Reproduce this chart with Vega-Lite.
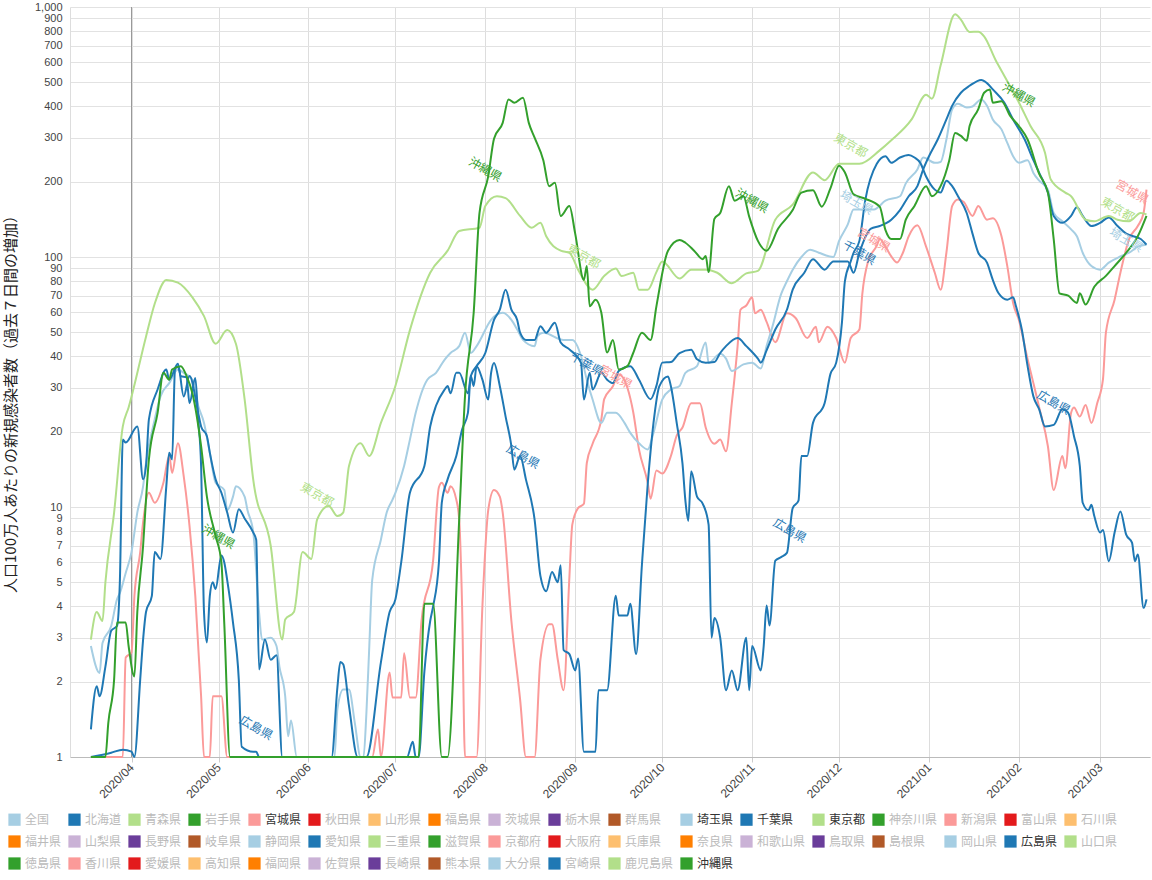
{
  "$schema": "https://vega.github.io/schema/vega-lite/v6.json",
  "autosize": {"type": "none"},
  "padding": {"left": 70, "top": 7, "right": 2, "bottom": 123},
  "width": 1080,
  "height": 750,
  "config": {"font": "Noto Sans CJK JP", "view": {"stroke": null}},
  "datasets": {
    "s": [
      {"p":"宮城県","d":"2020-03-18","v":1},{"p":"宮城県","d":"2020-03-29","v":1},{"p":"宮城県","d":"2020-03-30","v":2.5},{"p":"宮城県","d":"2020-04-01","v":2.62},{"p":"宮城県","d":"2020-04-02","v":4.4},{"p":"宮城県","d":"2020-04-04","v":6.6},{"p":"宮城県","d":"2020-04-05","v":8.7},{"p":"宮城県","d":"2020-04-07","v":11.4},{"p":"宮城県","d":"2020-04-09","v":10.4},{"p":"宮城県","d":"2020-04-12","v":12.5},{"p":"宮城県","d":"2020-04-14","v":16},{"p":"宮城県","d":"2020-04-15","v":13.7},{"p":"宮城県","d":"2020-04-17","v":18},{"p":"宮城県","d":"2020-04-19","v":13.3},{"p":"宮城県","d":"2020-04-21","v":8.4},{"p":"宮城県","d":"2020-04-23","v":4.4},{"p":"宮城県","d":"2020-04-25","v":1.75},{"p":"宮城県","d":"2020-04-26","v":1},{"p":"宮城県","d":"2020-04-28","v":1},{"p":"宮城県","d":"2020-04-29","v":1.75},{"p":"宮城県","d":"2020-05-02","v":1.75},{"p":"宮城県","d":"2020-05-04","v":1},{"p":"宮城県","d":"2020-06-23","v":1},{"p":"宮城県","d":"2020-06-25","v":1.29},{"p":"宮城県","d":"2020-06-26","v":1},{"p":"宮城県","d":"2020-06-29","v":2.18},{"p":"宮城県","d":"2020-06-30","v":1.73},{"p":"宮城県","d":"2020-07-03","v":1.73},{"p":"宮城県","d":"2020-07-04","v":2.6},{"p":"宮城県","d":"2020-07-06","v":1.73},{"p":"宮城県","d":"2020-07-08","v":1.73},{"p":"宮城県","d":"2020-07-10","v":3.5},{"p":"宮城県","d":"2020-07-14","v":6.1},{"p":"宮城県","d":"2020-07-16","v":12},{"p":"宮城県","d":"2020-07-17","v":12.5},{"p":"宮城県","d":"2020-07-19","v":11.4},{"p":"宮城県","d":"2020-07-20","v":12.1},{"p":"宮城県","d":"2020-07-22","v":10.7},{"p":"宮城県","d":"2020-07-23","v":8.9},{"p":"宮城県","d":"2020-07-24","v":4},{"p":"宮城県","d":"2020-07-25","v":1},{"p":"宮城県","d":"2020-07-29","v":1},{"p":"宮城県","d":"2020-07-31","v":4},{"p":"宮城県","d":"2020-08-02","v":9.7},{"p":"宮城県","d":"2020-08-04","v":11.7},{"p":"宮城県","d":"2020-08-06","v":11},{"p":"宮城県","d":"2020-08-07","v":9.5},{"p":"宮城県","d":"2020-08-10","v":3.5},{"p":"宮城県","d":"2020-08-13","v":1.7},{"p":"宮城県","d":"2020-08-15","v":1},{"p":"宮城県","d":"2020-08-18","v":1},{"p":"宮城県","d":"2020-08-20","v":2.45},{"p":"宮城県","d":"2020-08-23","v":3.4},{"p":"宮城県","d":"2020-08-24","v":3.4},{"p":"宮城県","d":"2020-08-26","v":2.45},{"p":"宮城県","d":"2020-08-28","v":1.85},{"p":"宮城県","d":"2020-08-30","v":5.25},{"p":"宮城県","d":"2020-08-31","v":8.5},{"p":"宮城県","d":"2020-09-02","v":9.9},{"p":"宮城県","d":"2020-09-04","v":10.3},{"p":"宮城県","d":"2020-09-05","v":15},{"p":"宮城県","d":"2020-09-07","v":17.9},{"p":"宮城県","d":"2020-09-10","v":22.4},{"p":"宮城県","d":"2020-09-11","v":27},{"p":"宮城県","d":"2020-09-14","v":30.4},{"p":"宮城県","d":"2020-09-16","v":34},{"p":"宮城県","d":"2020-09-19","v":30},{"p":"宮城県","d":"2020-09-21","v":24},{"p":"宮城県","d":"2020-09-23","v":17},{"p":"宮城県","d":"2020-09-26","v":12.5},{"p":"宮城県","d":"2020-09-27","v":10.8},{"p":"宮城県","d":"2020-09-29","v":14},{"p":"宮城県","d":"2020-10-01","v":13.6},{"p":"宮城県","d":"2020-10-04","v":16},{"p":"宮城県","d":"2020-10-06","v":19.3},{"p":"宮城県","d":"2020-10-08","v":20.8},{"p":"宮城県","d":"2020-10-11","v":26},{"p":"宮城県","d":"2020-10-14","v":26},{"p":"宮城県","d":"2020-10-16","v":20.8},{"p":"宮城県","d":"2020-10-19","v":17.9},{"p":"宮城県","d":"2020-10-21","v":18.6},{"p":"宮城県","d":"2020-10-23","v":16.7},{"p":"宮城県","d":"2020-10-25","v":26},{"p":"宮城県","d":"2020-10-27","v":44},{"p":"宮城県","d":"2020-10-28","v":61.5},{"p":"宮城県","d":"2020-10-30","v":64},{"p":"宮城県","d":"2020-11-01","v":69},{"p":"宮城県","d":"2020-11-02","v":59.5},{"p":"宮城県","d":"2020-11-04","v":61.5},{"p":"宮城県","d":"2020-11-06","v":55},{"p":"宮城県","d":"2020-11-09","v":45.6},{"p":"宮城県","d":"2020-11-13","v":59.5},{"p":"宮城県","d":"2020-11-16","v":57},{"p":"宮城県","d":"2020-11-20","v":47.4},{"p":"宮城県","d":"2020-11-23","v":52.6},{"p":"宮城県","d":"2020-11-24","v":45.6},{"p":"宮城県","d":"2020-11-27","v":52.6},{"p":"宮城県","d":"2020-11-30","v":47.4},{"p":"宮城県","d":"2020-12-03","v":37.8},{"p":"宮城県","d":"2020-12-05","v":47.4},{"p":"宮城県","d":"2020-12-08","v":51.3},{"p":"宮城県","d":"2020-12-09","v":71},{"p":"宮城県","d":"2020-12-11","v":96},{"p":"宮城県","d":"2020-12-14","v":111},{"p":"宮城県","d":"2020-12-15","v":118},{"p":"宮城県","d":"2020-12-17","v":110},{"p":"宮城県","d":"2020-12-19","v":100.5},{"p":"宮城県","d":"2020-12-21","v":95},{"p":"宮城県","d":"2020-12-23","v":104},{"p":"宮城県","d":"2020-12-25","v":121},{"p":"宮城県","d":"2020-12-28","v":134},{"p":"宮城県","d":"2020-12-31","v":110},{"p":"宮城県","d":"2021-01-03","v":86.5},{"p":"宮城県","d":"2021-01-05","v":74},{"p":"宮城県","d":"2021-01-07","v":104},{"p":"宮城県","d":"2021-01-09","v":160},{"p":"宮城県","d":"2021-01-11","v":170},{"p":"宮城県","d":"2021-01-13","v":166},{"p":"宮城県","d":"2021-01-16","v":146},{"p":"宮城県","d":"2021-01-18","v":160},{"p":"宮城県","d":"2021-01-21","v":141},{"p":"宮城県","d":"2021-01-23","v":143},{"p":"宮城県","d":"2021-01-26","v":121},{"p":"宮城県","d":"2021-01-28","v":92},{"p":"宮城県","d":"2021-01-30","v":65.5},{"p":"宮城県","d":"2021-02-01","v":56},{"p":"宮城県","d":"2021-02-04","v":39},{"p":"宮城県","d":"2021-02-06","v":31.3},{"p":"宮城県","d":"2021-02-08","v":25},{"p":"宮城県","d":"2021-02-11","v":17.5},{"p":"宮城県","d":"2021-02-13","v":11.7},{"p":"宮城県","d":"2021-02-16","v":16},{"p":"宮城県","d":"2021-02-17","v":14.3},{"p":"宮城県","d":"2021-02-19","v":23.8},{"p":"宮城県","d":"2021-02-20","v":25},{"p":"宮城県","d":"2021-02-22","v":23},{"p":"宮城県","d":"2021-02-24","v":25.6},{"p":"宮城県","d":"2021-02-26","v":21.7},{"p":"宮城県","d":"2021-02-28","v":26},{"p":"宮城県","d":"2021-03-02","v":32.5},{"p":"宮城県","d":"2021-03-03","v":49.8},{"p":"宮城県","d":"2021-03-06","v":67.5},{"p":"宮城県","d":"2021-03-08","v":86.5},{"p":"宮城県","d":"2021-03-11","v":118},{"p":"宮城県","d":"2021-03-14","v":133},{"p":"宮城県","d":"2021-03-16","v":150},{"p":"宮城県","d":"2021-03-17","v":186},

      {"p":"埼玉県","d":"2020-03-18","v":2.78},{"p":"埼玉県","d":"2020-03-21","v":2.17},{"p":"埼玉県","d":"2020-03-22","v":2.86},{"p":"埼玉県","d":"2020-03-25","v":3.34},{"p":"埼玉県","d":"2020-03-27","v":4.27},{"p":"埼玉県","d":"2020-03-28","v":4.53},{"p":"埼玉県","d":"2020-03-30","v":5.45},{"p":"埼玉県","d":"2020-04-01","v":6.6},{"p":"埼玉県","d":"2020-04-03","v":9.5},{"p":"埼玉県","d":"2020-04-05","v":12.1},{"p":"埼玉県","d":"2020-04-06","v":15},{"p":"埼玉県","d":"2020-04-09","v":22.4},{"p":"埼玉県","d":"2020-04-11","v":27.7},{"p":"埼玉県","d":"2020-04-14","v":31.3},{"p":"埼玉県","d":"2020-04-17","v":35.5},{"p":"埼玉県","d":"2020-04-19","v":34.4},{"p":"埼玉県","d":"2020-04-22","v":32.3},{"p":"埼玉県","d":"2020-04-24","v":25.4},{"p":"埼玉県","d":"2020-04-26","v":21.7},{"p":"埼玉県","d":"2020-04-28","v":16.5},{"p":"埼玉県","d":"2020-04-30","v":12.5},{"p":"埼玉県","d":"2020-05-03","v":11.7},{"p":"埼玉県","d":"2020-05-04","v":9.7},{"p":"埼玉県","d":"2020-05-06","v":11},{"p":"埼玉県","d":"2020-05-07","v":12.1},{"p":"埼玉県","d":"2020-05-10","v":11},{"p":"埼玉県","d":"2020-05-11","v":9.7},{"p":"埼玉県","d":"2020-05-13","v":7.9},{"p":"埼玉県","d":"2020-05-15","v":3.77},{"p":"埼玉県","d":"2020-05-16","v":2.95},{"p":"埼玉県","d":"2020-05-19","v":3.0},{"p":"埼玉県","d":"2020-05-21","v":2.78},{"p":"埼玉県","d":"2020-05-22","v":2.3},{"p":"埼玉県","d":"2020-05-24","v":1.75},{"p":"埼玉県","d":"2020-05-25","v":1.21},{"p":"埼玉県","d":"2020-05-26","v":1.4},{"p":"埼玉県","d":"2020-05-28","v":1},{"p":"埼玉県","d":"2020-06-10","v":1},{"p":"埼玉県","d":"2020-06-11","v":1.55},{"p":"埼玉県","d":"2020-06-13","v":1.86},{"p":"埼玉県","d":"2020-06-15","v":1.86},{"p":"埼玉県","d":"2020-06-17","v":1.37},{"p":"埼玉県","d":"2020-06-19","v":1},{"p":"埼玉県","d":"2020-06-20","v":1},{"p":"埼玉県","d":"2020-06-21","v":1.5},{"p":"埼玉県","d":"2020-06-22","v":2.78},{"p":"埼玉県","d":"2020-06-23","v":5.1},{"p":"埼玉県","d":"2020-06-26","v":7.4},{"p":"埼玉県","d":"2020-06-28","v":9.5},{"p":"埼玉県","d":"2020-06-30","v":10.7},{"p":"埼玉県","d":"2020-07-01","v":11.4},{"p":"埼玉県","d":"2020-07-04","v":14.6},{"p":"埼玉県","d":"2020-07-06","v":18.6},{"p":"埼玉県","d":"2020-07-08","v":23.8},{"p":"埼玉県","d":"2020-07-12","v":32.3},{"p":"埼玉県","d":"2020-07-15","v":34.4},{"p":"埼玉県","d":"2020-07-18","v":38.9},{"p":"埼玉県","d":"2020-07-20","v":41.3},{"p":"埼玉県","d":"2020-07-23","v":44},{"p":"埼玉県","d":"2020-07-25","v":49.8},{"p":"埼玉県","d":"2020-07-27","v":41.3},{"p":"埼玉県","d":"2020-07-29","v":44},{"p":"埼玉県","d":"2020-08-03","v":56},{"p":"埼玉県","d":"2020-08-05","v":58.9},{"p":"埼玉県","d":"2020-08-07","v":59.8},{"p":"埼玉県","d":"2020-08-10","v":56},{"p":"埼玉県","d":"2020-08-12","v":51.3},{"p":"埼玉県","d":"2020-08-14","v":46.6},{"p":"埼玉県","d":"2020-08-18","v":44},{"p":"埼玉県","d":"2020-08-19","v":48.3},{"p":"埼玉県","d":"2020-08-21","v":49.8},{"p":"埼玉県","d":"2020-08-28","v":46.6},{"p":"埼玉県","d":"2020-08-31","v":46.6},{"p":"埼玉県","d":"2020-09-03","v":40.2},{"p":"埼玉県","d":"2020-09-05","v":32.3},{"p":"埼玉県","d":"2020-09-07","v":26.9},{"p":"埼玉県","d":"2020-09-10","v":21.7},{"p":"埼玉県","d":"2020-09-12","v":23.8},{"p":"埼玉県","d":"2020-09-15","v":23.8},{"p":"埼玉県","d":"2020-09-18","v":21.7},{"p":"埼玉県","d":"2020-09-20","v":19.8},{"p":"埼玉県","d":"2020-09-23","v":18},{"p":"埼玉県","d":"2020-09-26","v":17},{"p":"埼玉県","d":"2020-09-28","v":19.8},{"p":"埼玉県","d":"2020-10-01","v":26.9},{"p":"埼玉県","d":"2020-10-04","v":29.5},{"p":"埼玉県","d":"2020-10-07","v":30.5},{"p":"埼玉県","d":"2020-10-09","v":34.4},{"p":"埼玉県","d":"2020-10-13","v":36.6},{"p":"埼玉県","d":"2020-10-16","v":45.5},{"p":"埼玉県","d":"2020-10-17","v":37.7},{"p":"埼玉県","d":"2020-10-21","v":41},{"p":"埼玉県","d":"2020-10-23","v":39.2},{"p":"埼玉県","d":"2020-10-25","v":35},{"p":"埼玉県","d":"2020-10-29","v":37.2},{"p":"埼玉県","d":"2020-11-01","v":37.8},{"p":"埼玉県","d":"2020-11-04","v":35.8},{"p":"埼玉県","d":"2020-11-06","v":44},{"p":"埼玉県","d":"2020-11-08","v":52.6},{"p":"埼玉県","d":"2020-11-11","v":71},{"p":"埼玉県","d":"2020-11-13","v":80},{"p":"埼玉県","d":"2020-11-15","v":89},{"p":"埼玉県","d":"2020-11-18","v":100},{"p":"埼玉県","d":"2020-11-21","v":107},{"p":"埼玉県","d":"2020-11-24","v":104},{"p":"埼玉県","d":"2020-11-29","v":100},{"p":"埼玉県","d":"2020-12-01","v":116},{"p":"埼玉県","d":"2020-12-04","v":135},{"p":"埼玉県","d":"2020-12-06","v":155},{"p":"埼玉県","d":"2020-12-13","v":155},{"p":"埼玉県","d":"2020-12-17","v":168},{"p":"埼玉県","d":"2020-12-22","v":175},{"p":"埼玉県","d":"2020-12-24","v":197},{"p":"埼玉県","d":"2020-12-28","v":224},{"p":"埼玉県","d":"2020-12-30","v":250},{"p":"埼玉県","d":"2021-01-03","v":238},{"p":"埼玉県","d":"2021-01-05","v":240},{"p":"埼玉県","d":"2021-01-07","v":295},{"p":"埼玉県","d":"2021-01-09","v":390},{"p":"埼玉県","d":"2021-01-11","v":410},{"p":"埼玉県","d":"2021-01-14","v":396},{"p":"埼玉県","d":"2021-01-16","v":400},{"p":"埼玉県","d":"2021-01-19","v":427},{"p":"埼玉県","d":"2021-01-21","v":403},{"p":"埼玉県","d":"2021-01-23","v":355},{"p":"埼玉県","d":"2021-01-26","v":324},{"p":"埼玉県","d":"2021-01-28","v":286},{"p":"埼玉県","d":"2021-01-30","v":253},{"p":"埼玉県","d":"2021-02-01","v":238},{"p":"埼玉県","d":"2021-02-04","v":244},{"p":"埼玉県","d":"2021-02-06","v":217},{"p":"埼玉県","d":"2021-02-08","v":202},{"p":"埼玉県","d":"2021-02-11","v":186},{"p":"埼玉県","d":"2021-02-13","v":150},{"p":"埼玉県","d":"2021-02-16","v":139},{"p":"埼玉県","d":"2021-02-19","v":129},{"p":"埼玉県","d":"2021-02-21","v":121},{"p":"埼玉県","d":"2021-02-23","v":104},{"p":"埼玉県","d":"2021-02-26","v":92},{"p":"埼玉県","d":"2021-03-01","v":89},{"p":"埼玉県","d":"2021-03-04","v":95},{"p":"埼玉県","d":"2021-03-08","v":100.5},{"p":"埼玉県","d":"2021-03-11","v":104},{"p":"埼玉県","d":"2021-03-14","v":110},{"p":"埼玉県","d":"2021-03-17","v":112},

      {"p":"千葉県","d":"2020-03-18","v":1.29},{"p":"千葉県","d":"2020-03-20","v":1.92},{"p":"千葉県","d":"2020-03-21","v":1.75},{"p":"千葉県","d":"2020-03-23","v":2.3},{"p":"千葉県","d":"2020-03-25","v":3.2},{"p":"千葉県","d":"2020-03-27","v":3.34},{"p":"千葉県","d":"2020-03-28","v":5.1},{"p":"千葉県","d":"2020-03-29","v":18.6},{"p":"千葉県","d":"2020-03-30","v":18.1},{"p":"千葉県","d":"2020-04-03","v":21},{"p":"千葉県","d":"2020-04-05","v":12.9},{"p":"千葉県","d":"2020-04-06","v":14.6},{"p":"千葉県","d":"2020-04-07","v":22.4},{"p":"千葉県","d":"2020-04-10","v":29.5},{"p":"千葉県","d":"2020-04-13","v":35.5},{"p":"千葉県","d":"2020-04-14","v":32.3},{"p":"千葉県","d":"2020-04-17","v":37.4},{"p":"千葉県","d":"2020-04-19","v":27.7},{"p":"千葉県","d":"2020-04-21","v":33.4},{"p":"千葉県","d":"2020-04-24","v":23.8},{"p":"千葉県","d":"2020-04-25","v":21},{"p":"千葉県","d":"2020-04-27","v":19.2},{"p":"千葉県","d":"2020-04-28","v":16.5},{"p":"千葉県","d":"2020-04-30","v":12.9},{"p":"千葉県","d":"2020-05-02","v":11.4},{"p":"千葉県","d":"2020-05-04","v":9.5},{"p":"千葉県","d":"2020-05-06","v":7.9},{"p":"千葉県","d":"2020-05-08","v":9.8},{"p":"千葉県","d":"2020-05-10","v":9},{"p":"千葉県","d":"2020-05-13","v":7.9},{"p":"千葉県","d":"2020-05-14","v":7.4},{"p":"千葉県","d":"2020-05-15","v":2.24},{"p":"千葉県","d":"2020-05-17","v":2.95},{"p":"千葉県","d":"2020-05-19","v":2.45},{"p":"千葉県","d":"2020-05-21","v":2.55},{"p":"千葉県","d":"2020-05-23","v":1},{"p":"千葉県","d":"2020-06-09","v":1},{"p":"千葉県","d":"2020-06-11","v":1.9},{"p":"千葉県","d":"2020-06-12","v":2.4},{"p":"千葉県","d":"2020-06-13","v":2.35},{"p":"千葉県","d":"2020-06-15","v":1.6},{"p":"千葉県","d":"2020-06-18","v":1},{"p":"千葉県","d":"2020-06-21","v":1},{"p":"千葉県","d":"2020-06-26","v":2.39},{"p":"千葉県","d":"2020-06-29","v":3.8},{"p":"千葉県","d":"2020-07-01","v":4.27},{"p":"千葉県","d":"2020-07-03","v":6},{"p":"千葉県","d":"2020-07-06","v":11.4},{"p":"千葉県","d":"2020-07-11","v":14.6},{"p":"千葉県","d":"2020-07-13","v":21},{"p":"千葉県","d":"2020-07-15","v":25.4},{"p":"千葉県","d":"2020-07-18","v":29.5},{"p":"千葉県","d":"2020-07-19","v":30.5},{"p":"千葉県","d":"2020-07-20","v":28.5},{"p":"千葉県","d":"2020-07-22","v":34.4},{"p":"千葉県","d":"2020-07-23","v":34.4},{"p":"千葉県","d":"2020-07-26","v":28.5},{"p":"千葉県","d":"2020-07-27","v":33.4},{"p":"千葉県","d":"2020-07-29","v":36.6},{"p":"千葉県","d":"2020-08-01","v":41.3},{"p":"千葉県","d":"2020-08-04","v":56},{"p":"千葉県","d":"2020-08-06","v":61.6},{"p":"千葉県","d":"2020-08-08","v":74},{"p":"千葉県","d":"2020-08-10","v":61.6},{"p":"千葉県","d":"2020-08-12","v":56},{"p":"千葉県","d":"2020-08-13","v":49.8},{"p":"千葉県","d":"2020-08-15","v":46.6},{"p":"千葉県","d":"2020-08-18","v":46.6},{"p":"千葉県","d":"2020-08-20","v":52.8},{"p":"千葉県","d":"2020-08-22","v":49.8},{"p":"千葉県","d":"2020-08-25","v":54.6},{"p":"千葉県","d":"2020-08-27","v":45.5},{"p":"千葉県","d":"2020-08-30","v":42.7},{"p":"千葉県","d":"2020-09-03","v":37.7},{"p":"千葉県","d":"2020-09-04","v":26.9},{"p":"千葉県","d":"2020-09-06","v":34.4},{"p":"千葉県","d":"2020-09-07","v":29.5},{"p":"千葉県","d":"2020-09-10","v":34.4},{"p":"千葉県","d":"2020-09-12","v":32.3},{"p":"千葉県","d":"2020-09-14","v":31.3},{"p":"千葉県","d":"2020-09-16","v":35},{"p":"千葉県","d":"2020-09-20","v":36.6},{"p":"千葉県","d":"2020-09-23","v":32.3},{"p":"千葉県","d":"2020-09-27","v":27},{"p":"千葉県","d":"2020-09-29","v":30.5},{"p":"千葉県","d":"2020-10-01","v":37.8},{"p":"千葉県","d":"2020-10-04","v":38},{"p":"千葉県","d":"2020-10-07","v":41.3},{"p":"千葉県","d":"2020-10-11","v":42.6},{"p":"千葉県","d":"2020-10-13","v":39},{"p":"千葉県","d":"2020-10-16","v":37.8},{"p":"千葉県","d":"2020-10-19","v":38},{"p":"千葉県","d":"2020-10-21","v":41.3},{"p":"千葉県","d":"2020-10-23","v":44},{"p":"千葉県","d":"2020-10-27","v":47.4},{"p":"千葉県","d":"2020-10-30","v":44},{"p":"千葉県","d":"2020-11-03","v":39.2},{"p":"千葉県","d":"2020-11-04","v":37.8},{"p":"千葉県","d":"2020-11-06","v":42.3},{"p":"千葉県","d":"2020-11-09","v":51.3},{"p":"千葉県","d":"2020-11-13","v":61.5},{"p":"千葉県","d":"2020-11-15","v":74},{"p":"千葉県","d":"2020-11-19","v":86.5},{"p":"千葉県","d":"2020-11-22","v":98},{"p":"千葉県","d":"2020-11-26","v":89},{"p":"千葉県","d":"2020-11-29","v":96},{"p":"千葉県","d":"2020-12-04","v":96},{"p":"千葉県","d":"2020-12-06","v":86.5},{"p":"千葉県","d":"2020-12-08","v":104},{"p":"千葉県","d":"2020-12-12","v":130},{"p":"千葉県","d":"2020-12-15","v":133},{"p":"千葉県","d":"2020-12-19","v":141},{"p":"千葉県","d":"2020-12-22","v":154},{"p":"千葉県","d":"2020-12-25","v":175},{"p":"千葉県","d":"2020-12-28","v":192},{"p":"千葉県","d":"2020-12-30","v":224},{"p":"千葉県","d":"2021-01-01","v":253},{"p":"千葉県","d":"2021-01-04","v":295},{"p":"千葉県","d":"2021-01-07","v":355},{"p":"千葉県","d":"2021-01-09","v":403},{"p":"千葉県","d":"2021-01-12","v":454},{"p":"千葉県","d":"2021-01-15","v":484},{"p":"千葉県","d":"2021-01-19","v":511},{"p":"千葉県","d":"2021-01-21","v":496},{"p":"千葉県","d":"2021-01-23","v":468},{"p":"千葉県","d":"2021-01-27","v":414},{"p":"千葉県","d":"2021-01-30","v":355},{"p":"千葉県","d":"2021-02-03","v":295},{"p":"千葉県","d":"2021-02-06","v":244},{"p":"千葉県","d":"2021-02-08","v":217},{"p":"千葉県","d":"2021-02-11","v":181},{"p":"千葉県","d":"2021-02-13","v":146},{"p":"千葉県","d":"2021-02-16","v":137},{"p":"千葉県","d":"2021-02-19","v":146},{"p":"千葉県","d":"2021-02-21","v":158},{"p":"千葉県","d":"2021-02-23","v":146},{"p":"千葉県","d":"2021-02-26","v":133},{"p":"千葉県","d":"2021-03-01","v":137},{"p":"千葉県","d":"2021-03-04","v":144},{"p":"千葉県","d":"2021-03-07","v":133},{"p":"千葉県","d":"2021-03-10","v":124},{"p":"千葉県","d":"2021-03-15","v":118},{"p":"千葉県","d":"2021-03-17","v":112},

      {"p":"東京都","d":"2020-03-18","v":2.95},{"p":"東京都","d":"2020-03-20","v":3.8},{"p":"東京都","d":"2020-03-22","v":3.5},{"p":"東京都","d":"2020-03-23","v":5},{"p":"東京都","d":"2020-03-26","v":9.5},{"p":"東京都","d":"2020-03-29","v":21},{"p":"東京都","d":"2020-03-31","v":25},{"p":"東京都","d":"2020-04-06","v":48},{"p":"東京都","d":"2020-04-09","v":65},{"p":"東京都","d":"2020-04-13","v":81},{"p":"東京都","d":"2020-04-17","v":79},{"p":"東京都","d":"2020-04-22","v":69},{"p":"東京都","d":"2020-04-26","v":58},{"p":"東京都","d":"2020-04-30","v":45},{"p":"東京都","d":"2020-05-04","v":51},{"p":"東京都","d":"2020-05-07","v":45},{"p":"東京都","d":"2020-05-10","v":27},{"p":"東京都","d":"2020-05-13","v":12.8},{"p":"東京都","d":"2020-05-19","v":7},{"p":"東京都","d":"2020-05-23","v":2.95},{"p":"東京都","d":"2020-05-24","v":3.55},{"p":"東京都","d":"2020-05-27","v":3.8},{"p":"東京都","d":"2020-05-30","v":6.6},{"p":"東京都","d":"2020-06-02","v":6.2},{"p":"東京都","d":"2020-06-04","v":8.9},{"p":"東京都","d":"2020-06-08","v":10.1},{"p":"東京都","d":"2020-06-11","v":9.2},{"p":"東京都","d":"2020-06-13","v":9.5},{"p":"東京都","d":"2020-06-15","v":14.6},{"p":"東京都","d":"2020-06-19","v":18},{"p":"東京都","d":"2020-06-22","v":16},{"p":"東京都","d":"2020-06-26","v":21.7},{"p":"東京都","d":"2020-07-01","v":30.5},{"p":"東京都","d":"2020-07-06","v":51},{"p":"東京都","d":"2020-07-13","v":86.5},{"p":"東京都","d":"2020-07-19","v":106},{"p":"東京都","d":"2020-07-23","v":127},{"p":"東京都","d":"2020-07-30","v":131},{"p":"東京都","d":"2020-08-01","v":160},{"p":"東京都","d":"2020-08-05","v":175},{"p":"東京都","d":"2020-08-08","v":172},{"p":"東京都","d":"2020-08-13","v":146},{"p":"東京都","d":"2020-08-17","v":131},{"p":"東京都","d":"2020-08-20","v":137},{"p":"東京都","d":"2020-08-22","v":121},{"p":"東京都","d":"2020-08-27","v":106},{"p":"東京都","d":"2020-08-30","v":104},{"p":"東京都","d":"2020-09-02","v":89},{"p":"東京都","d":"2020-09-07","v":74},{"p":"東京都","d":"2020-09-11","v":84},{"p":"東京都","d":"2020-09-15","v":90},{"p":"東京都","d":"2020-09-17","v":84},{"p":"東京都","d":"2020-09-21","v":86.5},{"p":"東京都","d":"2020-09-23","v":74},{"p":"東京都","d":"2020-09-26","v":74},{"p":"東京都","d":"2020-09-29","v":87},{"p":"東京都","d":"2020-10-01","v":96},{"p":"東京都","d":"2020-10-07","v":82},{"p":"東京都","d":"2020-10-11","v":89},{"p":"東京都","d":"2020-10-16","v":89},{"p":"東京都","d":"2020-10-20","v":86.5},{"p":"東京都","d":"2020-10-25","v":78.5},{"p":"東京都","d":"2020-10-30","v":86},{"p":"東京都","d":"2020-11-03","v":88},{"p":"東京都","d":"2020-11-09","v":141},{"p":"東京都","d":"2020-11-15","v":162},{"p":"東京都","d":"2020-11-22","v":218},{"p":"東京都","d":"2020-11-26","v":203},{"p":"東京都","d":"2020-12-01","v":236},{"p":"東京都","d":"2020-12-08","v":236},{"p":"東京都","d":"2020-12-15","v":267},{"p":"東京都","d":"2020-12-19","v":293},{"p":"東京都","d":"2020-12-26","v":355},{"p":"東京都","d":"2020-12-31","v":446},{"p":"東京都","d":"2021-01-02","v":430},{"p":"東京都","d":"2021-01-05","v":583},{"p":"東京都","d":"2021-01-10","v":935},{"p":"東京都","d":"2021-01-12","v":890},{"p":"東京都","d":"2021-01-15","v":795},{"p":"東京都","d":"2021-01-18","v":796},{"p":"東京都","d":"2021-01-20","v":763},{"p":"東京都","d":"2021-01-24","v":612},{"p":"東京都","d":"2021-01-27","v":530},{"p":"東京都","d":"2021-02-01","v":415},{"p":"東京都","d":"2021-02-05","v":334},{"p":"東京都","d":"2021-02-10","v":261},{"p":"東京都","d":"2021-02-12","v":204},{"p":"東京都","d":"2021-02-17","v":181},{"p":"東京都","d":"2021-02-19","v":175},{"p":"東京都","d":"2021-02-24","v":141},{"p":"東京都","d":"2021-02-27","v":139},{"p":"東京都","d":"2021-03-04","v":146},{"p":"東京都","d":"2021-03-07","v":141},{"p":"東京都","d":"2021-03-11","v":139},{"p":"東京都","d":"2021-03-15","v":150},{"p":"東京都","d":"2021-03-17","v":148},

      {"p":"広島県","d":"2020-03-18","v":1},{"p":"広島県","d":"2020-03-25","v":1.04},{"p":"広島県","d":"2020-03-29","v":1.07},{"p":"広島県","d":"2020-04-01","v":1.05},{"p":"広島県","d":"2020-04-02","v":1},{"p":"広島県","d":"2020-04-04","v":2.04},{"p":"広島県","d":"2020-04-05","v":2.95},{"p":"広島県","d":"2020-04-06","v":3.8},{"p":"広島県","d":"2020-04-08","v":4.4},{"p":"広島県","d":"2020-04-09","v":6.6},{"p":"広島県","d":"2020-04-11","v":6.2},{"p":"広島県","d":"2020-04-13","v":12.1},{"p":"広島県","d":"2020-04-14","v":16.5},{"p":"広島県","d":"2020-04-15","v":15.5},{"p":"広島県","d":"2020-04-16","v":35.5},{"p":"広島県","d":"2020-04-17","v":36.6},{"p":"広島県","d":"2020-04-18","v":33.4},{"p":"広島県","d":"2020-04-20","v":33},{"p":"広島県","d":"2020-04-21","v":26},{"p":"広島県","d":"2020-04-23","v":32.8},{"p":"広島県","d":"2020-04-24","v":22.4},{"p":"広島県","d":"2020-04-25","v":14.6},{"p":"広島県","d":"2020-04-26","v":3.8},{"p":"広島県","d":"2020-04-27","v":2.87},{"p":"広島県","d":"2020-04-28","v":4.4},{"p":"広島県","d":"2020-04-29","v":5},{"p":"広島県","d":"2020-04-30","v":4.7},{"p":"広島県","d":"2020-05-02","v":6.4},{"p":"広島県","d":"2020-05-03","v":6},{"p":"広島県","d":"2020-05-04","v":5.1},{"p":"広島県","d":"2020-05-06","v":3.45},{"p":"広島県","d":"2020-05-08","v":2.04},{"p":"広島県","d":"2020-05-09","v":1.1},{"p":"広島県","d":"2020-05-13","v":1.05},{"p":"広島県","d":"2020-05-14","v":1.05},{"p":"広島県","d":"2020-05-15","v":1},{"p":"広島県","d":"2020-07-05","v":1},{"p":"広島県","d":"2020-07-07","v":1.15},{"p":"広島県","d":"2020-07-08","v":1},{"p":"広島県","d":"2020-07-09","v":1},{"p":"広島県","d":"2020-07-11","v":2.2},{"p":"広島県","d":"2020-07-13","v":3.5},{"p":"広島県","d":"2020-07-14","v":4},{"p":"広島県","d":"2020-07-16","v":6},{"p":"広島県","d":"2020-07-17","v":10.4},{"p":"広島県","d":"2020-07-19","v":12.9},{"p":"広島県","d":"2020-07-22","v":16},{"p":"広島県","d":"2020-07-24","v":20.4},{"p":"広島県","d":"2020-07-26","v":23.8},{"p":"広島県","d":"2020-07-27","v":33.4},{"p":"広島県","d":"2020-07-28","v":30.5},{"p":"広島県","d":"2020-07-29","v":36.6},{"p":"広島県","d":"2020-07-31","v":32.3},{"p":"広島県","d":"2020-08-02","v":26.9},{"p":"広島県","d":"2020-08-03","v":34.4},{"p":"広島県","d":"2020-08-04","v":37.7},{"p":"広島県","d":"2020-08-06","v":30.5},{"p":"広島県","d":"2020-08-08","v":23},{"p":"広島県","d":"2020-08-10","v":17.5},{"p":"広島県","d":"2020-08-11","v":14.1},{"p":"広島県","d":"2020-08-13","v":16},{"p":"広島県","d":"2020-08-15","v":12.9},{"p":"広島県","d":"2020-08-18","v":8.9},{"p":"広島県","d":"2020-08-20","v":5.3},{"p":"広島県","d":"2020-08-22","v":4.6},{"p":"広島県","d":"2020-08-24","v":5.5},{"p":"広島県","d":"2020-08-26","v":5},{"p":"広島県","d":"2020-08-27","v":5.85},{"p":"広島県","d":"2020-08-28","v":2.68},{"p":"広島県","d":"2020-08-30","v":2.58},{"p":"広島県","d":"2020-09-01","v":2.22},{"p":"広島県","d":"2020-09-02","v":2.48},{"p":"広島県","d":"2020-09-04","v":1.05},{"p":"広島県","d":"2020-09-08","v":1.05},{"p":"広島県","d":"2020-09-09","v":1.85},{"p":"広島県","d":"2020-09-12","v":1.85},{"p":"広島県","d":"2020-09-15","v":4.42},{"p":"広島県","d":"2020-09-16","v":3.68},{"p":"広島県","d":"2020-09-19","v":3.68},{"p":"広島県","d":"2020-09-20","v":4.1},{"p":"広島県","d":"2020-09-22","v":2.58},{"p":"広島県","d":"2020-09-24","v":5.85},{"p":"広島県","d":"2020-09-26","v":12.3},{"p":"広島県","d":"2020-09-28","v":21.7},{"p":"広島県","d":"2020-09-30","v":30.4},{"p":"広島県","d":"2020-10-03","v":33.3},{"p":"広島県","d":"2020-10-04","v":30.4},{"p":"広島県","d":"2020-10-06","v":21.7},{"p":"広島県","d":"2020-10-08","v":14.9},{"p":"広島県","d":"2020-10-09","v":10.6},{"p":"広島県","d":"2020-10-10","v":8.8},{"p":"広島県","d":"2020-10-11","v":13.9},{"p":"広島県","d":"2020-10-13","v":11},{"p":"広島県","d":"2020-10-15","v":10.3},{"p":"広島県","d":"2020-10-17","v":8.5},{"p":"広島県","d":"2020-10-18","v":3},{"p":"広島県","d":"2020-10-19","v":3.6},{"p":"広島県","d":"2020-10-21","v":3},{"p":"広島県","d":"2020-10-23","v":1.85},{"p":"広島県","d":"2020-10-25","v":2.22},{"p":"広島県","d":"2020-10-27","v":1.85},{"p":"広島県","d":"2020-10-30","v":3},{"p":"広島県","d":"2020-10-31","v":1.85},{"p":"広島県","d":"2020-11-01","v":2.78},{"p":"広島県","d":"2020-11-04","v":2.22},{"p":"広島県","d":"2020-11-05","v":2.78},{"p":"広島県","d":"2020-11-06","v":4.04},{"p":"広島県","d":"2020-11-07","v":3.36},{"p":"広島県","d":"2020-11-09","v":6.1},{"p":"広島県","d":"2020-11-11","v":6.3},{"p":"広島県","d":"2020-11-13","v":6.55},{"p":"広島県","d":"2020-11-15","v":9.9},{"p":"広島県","d":"2020-11-17","v":10.6},{"p":"広島県","d":"2020-11-18","v":16},{"p":"広島県","d":"2020-11-20","v":16},{"p":"広島県","d":"2020-11-22","v":21.7},{"p":"広島県","d":"2020-11-26","v":26},{"p":"広島県","d":"2020-11-28","v":34},{"p":"広島県","d":"2020-11-30","v":37.8},{"p":"広島県","d":"2020-12-02","v":55},{"p":"広島県","d":"2020-12-03","v":80},{"p":"広島県","d":"2020-12-05","v":96},{"p":"広島県","d":"2020-12-06","v":104},{"p":"広島県","d":"2020-12-08","v":116},{"p":"広島県","d":"2020-12-10","v":168},{"p":"広島県","d":"2020-12-14","v":236},{"p":"広島県","d":"2020-12-17","v":253},{"p":"広島県","d":"2020-12-19","v":238},{"p":"広島県","d":"2020-12-22","v":250},{"p":"広島県","d":"2020-12-25","v":256},{"p":"広島県","d":"2020-12-27","v":250},{"p":"広島県","d":"2020-12-29","v":238},{"p":"広島県","d":"2020-12-31","v":210},{"p":"広島県","d":"2021-01-03","v":186},{"p":"広島県","d":"2021-01-05","v":181},{"p":"広島県","d":"2021-01-07","v":202},{"p":"広島県","d":"2021-01-09","v":192},{"p":"広島県","d":"2021-01-11","v":175},{"p":"広島県","d":"2021-01-14","v":150},{"p":"広島県","d":"2021-01-16","v":124},{"p":"広島県","d":"2021-01-18","v":104},{"p":"広島県","d":"2021-01-21","v":95},{"p":"広島県","d":"2021-01-23","v":81},{"p":"広島県","d":"2021-01-25","v":71.6},{"p":"広島県","d":"2021-01-28","v":67.5},{"p":"広島県","d":"2021-01-30","v":69},{"p":"広島県","d":"2021-01-31","v":63.5},{"p":"広島県","d":"2021-02-02","v":51.3},{"p":"広島県","d":"2021-02-04","v":36.6},{"p":"広島県","d":"2021-02-06","v":27.7},{"p":"広島県","d":"2021-02-08","v":24.6},{"p":"広島県","d":"2021-02-10","v":21},{"p":"広島県","d":"2021-02-13","v":21.3},{"p":"広島県","d":"2021-02-16","v":24.6},{"p":"広島県","d":"2021-02-18","v":23.8},{"p":"広島県","d":"2021-02-20","v":19.2},{"p":"広島県","d":"2021-02-22","v":14.6},{"p":"広島県","d":"2021-02-23","v":10.4},{"p":"広島県","d":"2021-02-25","v":9.7},{"p":"広島県","d":"2021-02-26","v":10.2},{"p":"広島県","d":"2021-02-27","v":9.2},{"p":"広島県","d":"2021-03-01","v":7.9},{"p":"広島県","d":"2021-03-02","v":8.1},{"p":"広島県","d":"2021-03-04","v":6.07},{"p":"広島県","d":"2021-03-06","v":7.9},{"p":"広島県","d":"2021-03-08","v":9.6},{"p":"広島県","d":"2021-03-10","v":7.75},{"p":"広島県","d":"2021-03-12","v":7.2},{"p":"広島県","d":"2021-03-13","v":6.07},{"p":"広島県","d":"2021-03-14","v":6.45},{"p":"広島県","d":"2021-03-16","v":3.95},{"p":"広島県","d":"2021-03-17","v":4.27},

      {"p":"沖縄県","d":"2020-03-18","v":1},{"p":"沖縄県","d":"2020-03-23","v":1},{"p":"沖縄県","d":"2020-03-24","v":1.37},{"p":"沖縄県","d":"2020-03-26","v":2.04},{"p":"沖縄県","d":"2020-03-27","v":3.45},{"p":"沖縄県","d":"2020-03-30","v":3.45},{"p":"沖縄県","d":"2020-03-31","v":2.78},{"p":"沖縄県","d":"2020-04-02","v":2.1},{"p":"沖縄県","d":"2020-04-03","v":3.8},{"p":"沖縄県","d":"2020-04-05","v":7},{"p":"沖縄県","d":"2020-04-06","v":10.7},{"p":"沖縄県","d":"2020-04-07","v":15.5},{"p":"沖縄県","d":"2020-04-10","v":23.8},{"p":"沖縄県","d":"2020-04-12","v":34.4},{"p":"沖縄県","d":"2020-04-14","v":32.3},{"p":"沖縄県","d":"2020-04-15","v":35.5},{"p":"沖縄県","d":"2020-04-18","v":36.6},{"p":"沖縄県","d":"2020-04-20","v":33.4},{"p":"沖縄県","d":"2020-04-22","v":28.5},{"p":"沖縄県","d":"2020-04-25","v":17.5},{"p":"沖縄県","d":"2020-04-27","v":11},{"p":"沖縄県","d":"2020-04-30","v":7.66},{"p":"沖縄県","d":"2020-05-02","v":6},{"p":"沖縄県","d":"2020-05-03","v":3.4},{"p":"沖縄県","d":"2020-05-05","v":1},{"p":"沖縄県","d":"2020-07-09","v":1},{"p":"沖縄県","d":"2020-07-11","v":4.1},{"p":"沖縄県","d":"2020-07-14","v":4.1},{"p":"沖縄県","d":"2020-07-17","v":1},{"p":"沖縄県","d":"2020-07-19","v":1},{"p":"沖縄県","d":"2020-07-23","v":8.9},{"p":"沖縄県","d":"2020-07-25","v":27.7},{"p":"沖縄県","d":"2020-07-28","v":60},{"p":"沖縄県","d":"2020-07-30","v":150},{"p":"沖縄県","d":"2020-08-02","v":210},{"p":"沖縄県","d":"2020-08-04","v":297},{"p":"沖縄県","d":"2020-08-07","v":344},{"p":"沖縄県","d":"2020-08-09","v":427},{"p":"沖縄県","d":"2020-08-11","v":414},{"p":"沖縄県","d":"2020-08-14","v":434},{"p":"沖縄県","d":"2020-08-16","v":344},{"p":"沖縄県","d":"2020-08-18","v":300},{"p":"沖縄県","d":"2020-08-21","v":244},{"p":"沖縄県","d":"2020-08-23","v":192},{"p":"沖縄県","d":"2020-08-25","v":198},{"p":"沖縄県","d":"2020-08-27","v":146},{"p":"沖縄県","d":"2020-08-30","v":160},{"p":"沖縄県","d":"2020-09-01","v":124},{"p":"沖縄県","d":"2020-09-04","v":81},{"p":"沖縄県","d":"2020-09-05","v":92},{"p":"沖縄県","d":"2020-09-06","v":63.5},{"p":"沖縄県","d":"2020-09-08","v":67.5},{"p":"沖縄県","d":"2020-09-10","v":60},{"p":"沖縄県","d":"2020-09-12","v":41.5},{"p":"沖縄県","d":"2020-09-14","v":46.6},{"p":"沖縄県","d":"2020-09-16","v":35.5},{"p":"沖縄県","d":"2020-09-19","v":36.6},{"p":"沖縄県","d":"2020-09-21","v":41.3},{"p":"沖縄県","d":"2020-09-24","v":49.8},{"p":"沖縄県","d":"2020-09-27","v":46.6},{"p":"沖縄県","d":"2020-09-29","v":63.5},{"p":"沖縄県","d":"2020-10-03","v":106},{"p":"沖縄県","d":"2020-10-07","v":117},{"p":"沖縄県","d":"2020-10-09","v":114},{"p":"沖縄県","d":"2020-10-12","v":106},{"p":"沖縄県","d":"2020-10-15","v":98},{"p":"沖縄県","d":"2020-10-16","v":101},{"p":"沖縄県","d":"2020-10-17","v":87},{"p":"沖縄県","d":"2020-10-19","v":142},{"p":"沖縄県","d":"2020-10-21","v":150},{"p":"沖縄県","d":"2020-10-24","v":192},{"p":"沖縄県","d":"2020-10-26","v":168},{"p":"沖縄県","d":"2020-10-29","v":175},{"p":"沖縄県","d":"2020-10-31","v":145},{"p":"沖縄県","d":"2020-11-03","v":116},{"p":"沖縄県","d":"2020-11-06","v":106},{"p":"沖縄県","d":"2020-11-10","v":130},{"p":"沖縄県","d":"2020-11-15","v":154},{"p":"沖縄県","d":"2020-11-18","v":181},{"p":"沖縄県","d":"2020-11-22","v":185},{"p":"沖縄県","d":"2020-11-25","v":159},{"p":"沖縄県","d":"2020-11-28","v":188},{"p":"沖縄県","d":"2020-12-01","v":232},{"p":"沖縄県","d":"2020-12-03","v":218},{"p":"沖縄県","d":"2020-12-06","v":178},{"p":"沖縄県","d":"2020-12-10","v":171},{"p":"沖縄県","d":"2020-12-15","v":159},{"p":"沖縄県","d":"2020-12-17","v":128},{"p":"沖縄県","d":"2020-12-19","v":118},{"p":"沖縄県","d":"2020-12-22","v":118},{"p":"沖縄県","d":"2020-12-24","v":141},{"p":"沖縄県","d":"2020-12-27","v":160},{"p":"沖縄県","d":"2020-12-31","v":192},{"p":"沖縄県","d":"2021-01-02","v":175},{"p":"沖縄県","d":"2021-01-05","v":192},{"p":"沖縄県","d":"2021-01-08","v":244},{"p":"沖縄県","d":"2021-01-10","v":313},{"p":"沖縄県","d":"2021-01-12","v":305},{"p":"沖縄県","d":"2021-01-14","v":292},{"p":"沖縄県","d":"2021-01-15","v":334},{"p":"沖縄県","d":"2021-01-18","v":390},{"p":"沖縄県","d":"2021-01-20","v":454},{"p":"沖縄県","d":"2021-01-22","v":468},{"p":"沖縄県","d":"2021-01-23","v":414},{"p":"沖縄県","d":"2021-01-26","v":420},{"p":"沖縄県","d":"2021-01-29","v":367},{"p":"沖縄県","d":"2021-02-01","v":334},{"p":"沖縄県","d":"2021-02-04","v":295},{"p":"沖縄県","d":"2021-02-08","v":215},{"p":"沖縄県","d":"2021-02-11","v":181},{"p":"沖縄県","d":"2021-02-13","v":118},{"p":"沖縄県","d":"2021-02-15","v":71.5},{"p":"沖縄県","d":"2021-02-18","v":70},{"p":"沖縄県","d":"2021-02-21","v":65.5},{"p":"沖縄県","d":"2021-02-22","v":71.6},{"p":"沖縄県","d":"2021-02-24","v":64.5},{"p":"沖縄県","d":"2021-02-27","v":76},{"p":"沖縄県","d":"2021-03-03","v":84},{"p":"沖縄県","d":"2021-03-06","v":92},{"p":"沖縄県","d":"2021-03-10","v":104},{"p":"沖縄県","d":"2021-03-14","v":121},{"p":"沖縄県","d":"2021-03-17","v":146}
    ],
    "lbl": [
      {"p":"東京都","d":"2020-06-04","v":11.2},
      {"p":"沖縄県","d":"2020-05-01","v":7.6},
      {"p":"広島県","d":"2020-05-14","v":1.31},
      {"p":"沖縄県","d":"2020-08-01","v":224},
      {"p":"東京都","d":"2020-09-04","v":100.5},
      {"p":"千葉県","d":"2020-09-05","v":37.2},
      {"p":"宮城県","d":"2020-09-15","v":33},
      {"p":"広島県","d":"2020-08-14","v":15.9},
      {"p":"沖縄県","d":"2020-11-01","v":168},
      {"p":"広島県","d":"2020-11-14","v":8.05},
      {"p":"東京都","d":"2020-12-05","v":279},
      {"p":"埼玉県","d":"2020-12-07","v":165},
      {"p":"宮城県","d":"2020-12-13","v":117},
      {"p":"千葉県","d":"2020-12-08","v":104},
      {"p":"沖縄県","d":"2021-02-01","v":446},
      {"p":"広島県","d":"2021-02-13","v":26.2},
      {"p":"東京都","d":"2021-03-07","v":155},
      {"p":"埼玉県","d":"2021-03-10","v":117},
      {"p":"宮城県","d":"2021-03-12","v":182}
    ],
    "cursor": [{"d":"2020-04-01"}]
  },
  "layer": [
    {
      "data": {"name": "cursor"},
      "mark": {"type": "rule", "color": "#999999", "strokeWidth": 1},
      "encoding": {
        "x": {
          "field": "d", "type": "temporal",
          "scale": {"type": "utc", "domain": [{"year": 2020, "month": 3, "date": 10, "hours": 19, "utc": true}, {"year": 2021, "month": 3, "date": 18, "hours": 5, "utc": true}]},
          "axis": {
            "title": null,
            "values": [
              {"year": 2020, "month": 4, "date": 1, "utc": true},
              {"year": 2020, "month": 5, "date": 1, "utc": true},
              {"year": 2020, "month": 6, "date": 1, "utc": true},
              {"year": 2020, "month": 7, "date": 1, "utc": true},
              {"year": 2020, "month": 8, "date": 1, "utc": true},
              {"year": 2020, "month": 9, "date": 1, "utc": true},
              {"year": 2020, "month": 10, "date": 1, "utc": true},
              {"year": 2020, "month": 11, "date": 1, "utc": true},
              {"year": 2020, "month": 12, "date": 1, "utc": true},
              {"year": 2021, "month": 1, "date": 1, "utc": true},
              {"year": 2021, "month": 2, "date": 1, "utc": true},
              {"year": 2021, "month": 3, "date": 1, "utc": true}
            ],
            "format": "%Y/%m",
            "labelAngle": -45,
            "labelAlign": "right",
            "labelBaseline": "middle",
            "labelFont": "Liberation Sans",
            "labelFontSize": 12,
            "labelColor": "#444444",
            "labelPadding": 3,
            "tickSize": 5,
            "tickColor": "#cccccc",
            "gridColor": "#dddddd",
            "domainColor": "#bbbbbb"
          }
        }
      }
    },
    {
      "data": {"name": "s"},
      "mark": {"type": "line", "strokeWidth": 2, "interpolate": "monotone"},
      "encoding": {
        "x": {"field": "d", "type": "temporal"},
        "y": {
          "field": "v", "type": "quantitative",
          "scale": {"type": "log", "domain": [1, 1000], "nice": false},
          "axis": {
            "title": "人口100万人あたりの新規感染者数（過去７日間の増加）",
            "values": [1,2,3,4,5,6,7,8,9,10,20,30,40,50,60,70,80,90,100,200,300,400,500,600,700,800,900,1000],
            "format": ",",
            "labelOverlap": false,
            "labelFont": "Liberation Sans",
            "labelFontSize": 11,
            "labelColor": "#444444",
            "ticks": false,
            "labelPadding": 8,
            "gridColor": "#e2e2e2",
            "domainColor": "#dddddd",
            "titleFont": "Noto Sans CJK JP",
            "titleFontSize": 15,
            "titleFontWeight": "normal",
            "titleColor": "#222222",
            "titleX": -60,
            "titleY": 393,
            "titleAngle": 270,
            "titleAlign": "center",
            "titleBaseline": "middle"
          }
        },
        "color": {
          "field": "p", "type": "nominal",
          "scale": {
            "domain": ["全国","北海道","青森県","岩手県","宮城県","秋田県","山形県","福島県","茨城県","栃木県","群馬県","埼玉県","千葉県","東京都","神奈川県","新潟県","富山県","石川県","福井県","山梨県","長野県","岐阜県","静岡県","愛知県","三重県","滋賀県","京都府","大阪府","兵庫県","奈良県","和歌山県","鳥取県","島根県","岡山県","広島県","山口県","徳島県","香川県","愛媛県","高知県","福岡県","佐賀県","長崎県","熊本県","大分県","宮崎県","鹿児島県","沖縄県"],
            "range": ["#a6cee3","#1f78b4","#b2df8a","#33a02c","#fb9a99","#e31a1c","#fdbf6f","#ff7f00","#cab2d6","#6a3d9a","#b15928",
                      "#a6cee3","#1f78b4","#b2df8a","#33a02c","#fb9a99","#e31a1c","#fdbf6f","#ff7f00","#cab2d6","#6a3d9a","#b15928",
                      "#a6cee3","#1f78b4","#b2df8a","#33a02c","#fb9a99","#e31a1c","#fdbf6f","#ff7f00","#cab2d6","#6a3d9a","#b15928",
                      "#a6cee3","#1f78b4","#b2df8a","#33a02c","#fb9a99","#e31a1c","#fdbf6f","#ff7f00","#cab2d6","#6a3d9a","#b15928",
                      "#a6cee3","#1f78b4","#b2df8a","#33a02c"]
          },
          "legend": {
            "orient": "none",
            "legendX": -62,
            "legendY": 806,
            "direction": "horizontal",
            "columns": 18,
            "gridAlign": "each",
            "symbolLimit": 60,
            "title": null,
            "symbolType": "square",
            "symbolSize": 150,
            "columnPadding": 6,
            "rowPadding": 9,
            "labelFont": "Noto Sans CJK JP",
            "labelFontSize": 12,
            "labelOffset": 4,
            "labelColor": "#bbbbbb",
            "labelLimit": 200,
            "padding": 0,
            "encode": {
              "symbols": {"update": {"fill": {"scale": "color", "field": "value"}, "stroke": {"scale": "color", "field": "value"}, "strokeWidth": {"value": 0}, "opacity": {"value": 1}}},
              "labels": {"update": {"fill": {"signal": "indexof(['宮城県','埼玉県','千葉県','東京都','広島県','沖縄県'], datum.value) >= 0 ? '#333333' : '#bbbbbb'"}}}
            }
          }
        }
      }
    },
    {
      "data": {"name": "lbl"},
      "mark": {"type": "text", "angle": 30, "fontSize": 12, "font": "Noto Sans CJK JP", "align": "center", "baseline": "middle"},
      "encoding": {
        "x": {"field": "d", "type": "temporal"},
        "y": {"field": "v", "type": "quantitative"},
        "color": {"field": "p", "type": "nominal", "legend": null},
        "text": {"field": "p", "type": "nominal"}
      }
    }
  ]
}
